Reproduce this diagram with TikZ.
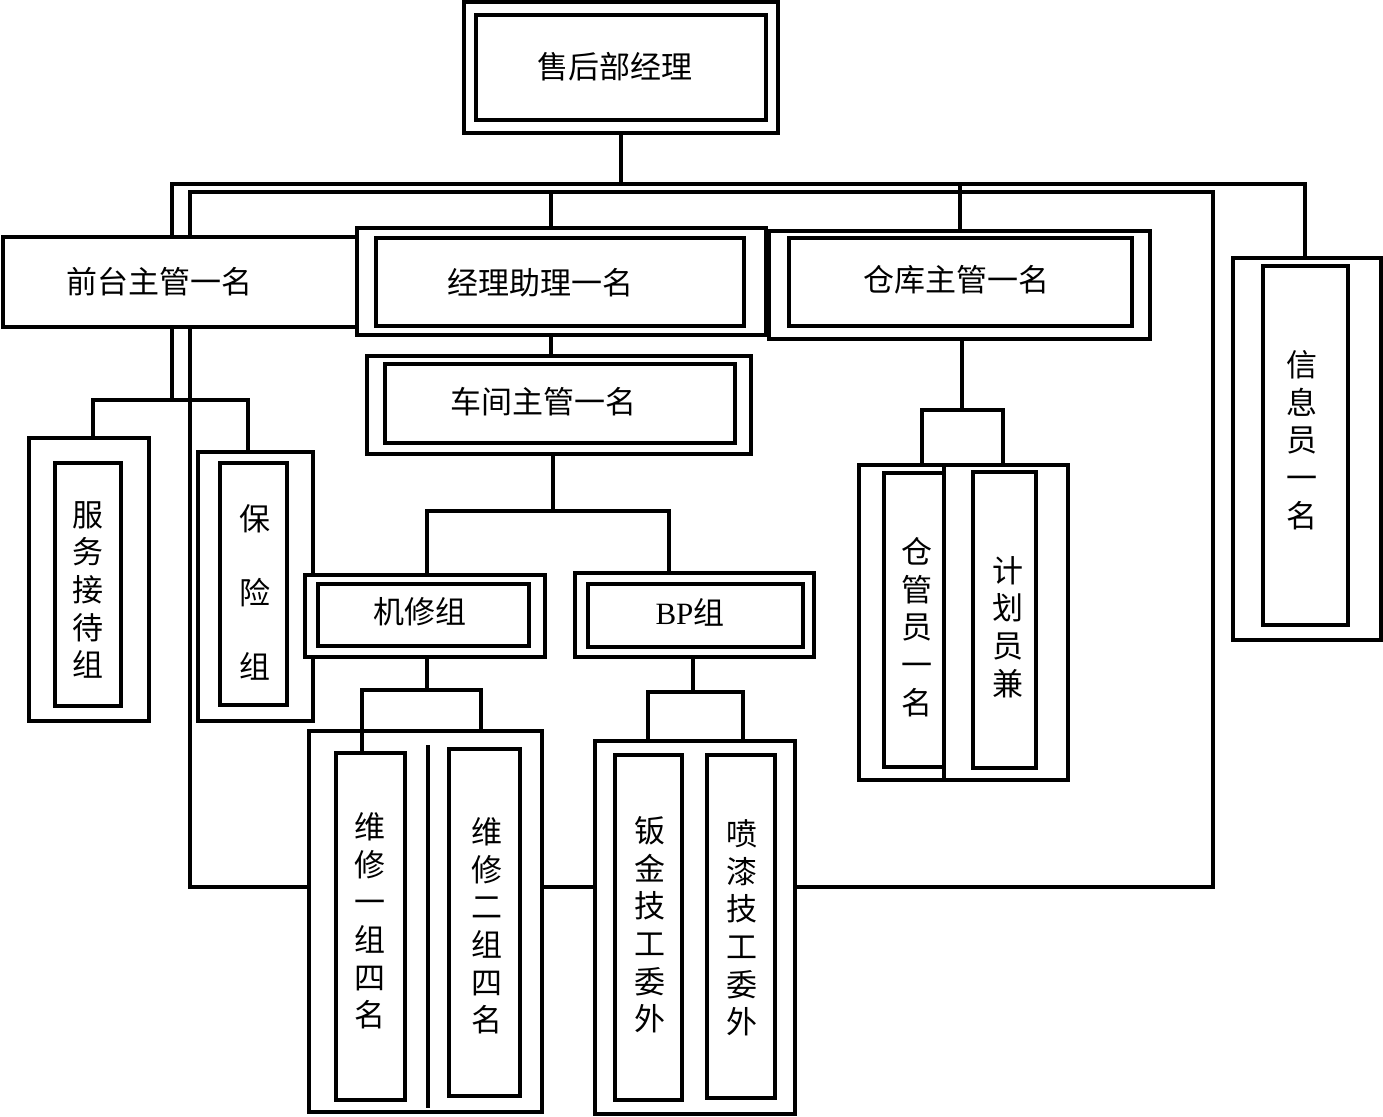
\documentclass[tikz,border=0pt]{standalone}
\usepackage{fontspec}
\newfontfamily\cjk{Noto Sans CJK SC}
\newfontfamily\latserif{Liberation Serif}
\usetikzlibrary{fit}
\begin{document}
\begin{tikzpicture}[x=0.5pt,y=-0.5pt,
  bx/.style={draw, line width=2.1pt, fill=white, inner sep=0pt},
  conn/.style={line width=1.7pt},
  frameline/.style={line width=1.8pt},
  lbl/.style={font=\cjk\fontsize{15.5pt}{18.8pt}\selectfont, inner sep=0pt, align=center},
]
\useasboundingbox[fill=white] (0,0) rectangle (1383,1116);

% frame lines behind boxes
\coordinate (A) at (172,184);
\coordinate (A2) at (1305,184);
\coordinate (B1) at (190,192);
\coordinate (B2) at (1213,887);
\draw[frameline] (B1) rectangle (B2);

% boxes
\node[bx, fit={(464,2) (778,133)}] (topO) {};
\node[bx, fit={(476,15) (766,120)}] (topI) {};
\node[lbl] (topT) at (615,67) {售后部经理};

\node[bx, fit={(3,237) (357,327)}] (front) {};
\node[lbl] (frontT) at (160,282) {前台主管一名};

\node[bx, fit={(357,228) (766,335)}] (asstO) {};
\node[bx, fit={(376,238) (744,326)}] (asstI) {};
\node[lbl] (asstT) at (540,283) {经理助理一名};

\node[bx, fit={(769,231) (1150,339)}] (whO) {};
\node[bx, fit={(789,238) (1132,326)}] (whI) {};
\node[lbl] (whT) at (956,280) {仓库主管一名};

\node[bx, fit={(1233,258) (1381,640)}] (infoO) {};
\node[bx, fit={(1263,266) (1348,625)}] (infoI) {};
\node[lbl] (infoT) at (1302,440) {信\\息\\员\\一\\名};

\node[bx, fit={(367,356) (751,454)}] (wsO) {};
\node[bx, fit={(385,364) (735,443)}] (wsI) {};
\node[lbl] (wsT) at (543,402) {车间主管一名};

\node[bx, fit={(29,438) (149,721)}] (fwO) {};
\node[bx, fit={(55,463) (121,706)}] (fwI) {};
\node[lbl] (fwT) at (88,590) {服\\务\\接\\待\\组};

\node[bx, fit={(198,452) (313,721)}] (insO) {};
\node[bx, fit={(220,463) (287,705)}] (insI) {};
\node[lbl, font=\cjk\fontsize{15.5pt}{37pt}\selectfont] (insT) at (255,592) {保\\险\\组};

\node[bx, fit={(305,575) (545,657)}] (jxO) {};
\node[bx, fit={(318,584) (529,646)}] (jxI) {};
\node[lbl] (jxT) at (420,612) {机修组};

\node[bx, fit={(575,573) (814,657)}] (bpO) {};
\node[bx, fit={(588,584) (803,647)}] (bpI) {};
\node[lbl] (bpT) at (690,612) {{\latserif BP}组};

\node[bx, fit={(309,731) (542,1112)}] (wxO) {};
\draw[line width=1.7pt] (428,745) -- (428,1108);
\node[bx, fit={(336,753) (405,1100)}] (wx1) {};
\node[lbl] (wx1T) at (370,921) {维\\修\\一\\组\\四\\名};
\node[bx, fit={(449,749) (520,1096)}] (wx2) {};
\node[lbl] (wx2T) at (487,926) {维\\修\\二\\组\\四\\名};

\node[bx, fit={(595,741) (795,1114)}] (bpgO) {};
\node[bx, fit={(615,755) (682,1100)}] (bj) {};
\node[lbl] (bjT) at (650,925) {钣\\金\\技\\工\\委\\外};
\node[bx, fit={(707,755) (775,1098)}] (pq) {};
\node[lbl] (pqT) at (742,928) {喷\\漆\\技\\工\\委\\外};

\node[bx, fit={(859,465) (1068,780)}] (cgO) {};
\draw[line width=2.1pt] (944,465) -- (944,780);
\node[bx, fit={(884,473) (944,767)}] (cg) {};
\node[lbl] (cgT) at (917,627) {仓\\管\\员\\一\\名};
\node[bx, fit={(973,472) (1036,768)}] (jh) {};
\node[lbl] (jhT) at (1008,627) {计\\划\\员\\兼};

% connectors
\draw[conn] (topO.south) -- (topO.south |- A);
\draw[conn] (front.north -| A) -- (A) -- (A2) -- (infoO.north -| A2);
\draw[conn] (asstO.north -| 551,0) -- (551,192);
\draw[conn] (whO.north -| 960,0) -- (960,184);
\draw[conn] (asstO.south -| 551,0) -- (wsO.north -| 551,0);

\draw[conn] (front.south -| A) -- (172,400);
\draw[conn] (fwO.north -| 93,0) -- (93,400) -- (248,400) -- (insO.north -| 248,0);

\draw[conn] (wsO.south -| 553,0) -- (553,511);
\draw[conn] (jxO.north -| 427,0) -- (427,511) -- (669,511) -- (bpO.north -| 669,0);

\draw[conn] (jxO.south -| 427,0) -- (427,690);
\draw[conn] (wx1.north -| 362,0) -- (362,690) -- (481,690) -- (wxO.north -| 481,0);

\draw[conn] (bpO.south -| 693,0) -- (693,692);
\draw[conn] (bpgO.north -| 648,0) -- (648,692) -- (743,692) -- (bpgO.north -| 743,0);

\draw[conn] (whO.south -| 962,0) -- (962,410);
\draw[conn] (cgO.north -| 922,0) -- (922,410) -- (1003,410) -- (cgO.north -| 1003,0);
\end{tikzpicture}
\end{document}
